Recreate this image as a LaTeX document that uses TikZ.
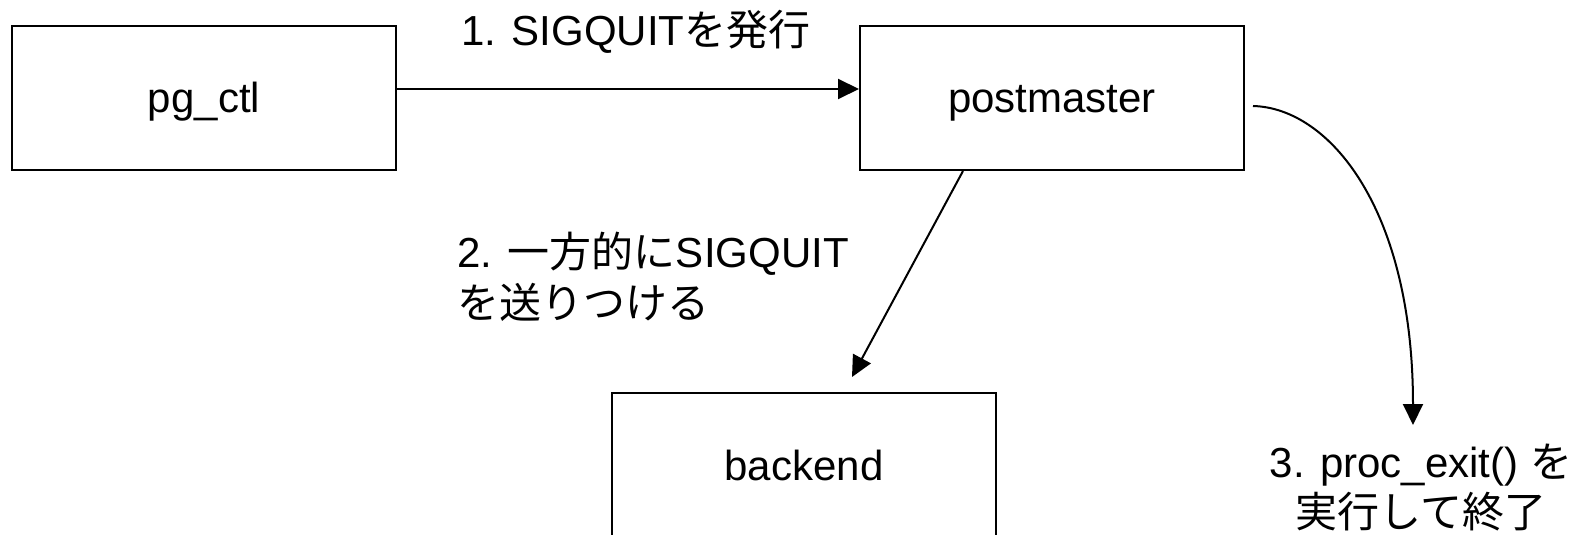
\documentclass[tikz,border=0pt]{standalone}
\usepackage{fontspec}
\setmainfont{Liberation Sans}
\newfontfamily\jp{Noto Sans CJK JP}
\usetikzlibrary{arrows.meta,calc}

\begin{document}
\begin{tikzpicture}[x=0.5pt,y=-0.5pt,
  box/.style={draw,line width=1pt,minimum width=192pt,minimum height=72pt,
    inner sep=0pt,text height=17pt,text depth=2pt,font=\fontsize{21}{25}\selectfont},
  lbl/.style={inner sep=0pt,font=\fontsize{21}{25}\selectfont},
  conn/.style={line width=1pt,-{Triangle[length=10.5pt,width=10pt]}}]
\useasboundingbox (0,0) rectangle (1571,535);
\clip (0,0) rectangle (1571,535);

% processes
\node[box] (pg) at (204,98) {pg\_ctl};
\node[box] (pm) at (1052,98) {postmaster};
\node[box] (be) at (804,465) {backend};

% 1. pg_ctl signals the postmaster
\draw[conn] ([yshift=4.5pt]pg.east) -- ([yshift=4.5pt]pm.west);
\node[lbl,anchor=base] (l1) at (636,46) {1. SIGQUIT{\jp を発行}};

% 2. postmaster forwards the signal to the backend
\coordinate (s2) at ($(pm.south west)+(104,0)$);
\coordinate (e2) at (852,377);
\draw[conn] (s2) -- (e2);
\node[lbl,anchor=base west,align=left] (l2) at (457,318)
  {2. {\jp 一方的に}SIGQUIT\\{\jp を送りつける}};

% 3. postmaster exits
\coordinate (s3) at (1253,106);
\coordinate (e3) at (1413,425);
\draw[conn] (s3) .. controls (1330,108) and (1413,210) .. (e3);
\node[lbl,anchor=base,align=center] (l3) at (1421,527)
  {3. proc\_exit() {\jp を}\\{\jp 実行して終了}};
\end{tikzpicture}
\end{document}
